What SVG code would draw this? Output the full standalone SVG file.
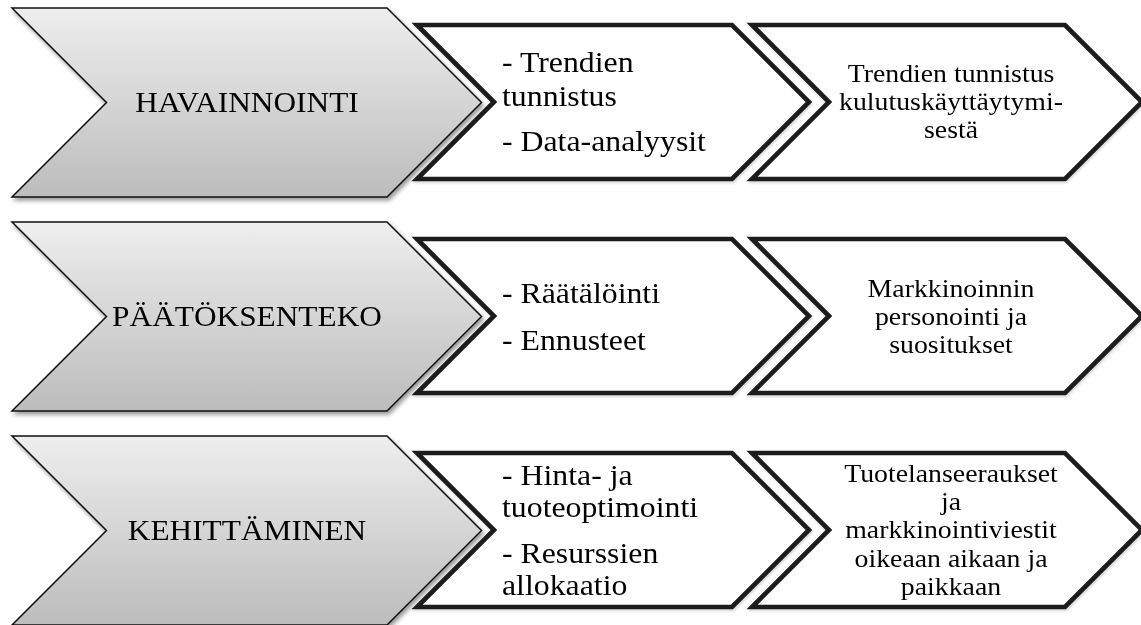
<svg xmlns="http://www.w3.org/2000/svg" width="1141" height="625" viewBox="0 0 1141 625">
  <defs>
    <linearGradient id="grayGrad" x1="0" y1="0" x2="0" y2="1">
      <stop offset="0" stop-color="#eeeeee"/>
      <stop offset="1" stop-color="#bcbcbc"/>
    </linearGradient>
    <filter id="shadow" x="-5%" y="-10%" width="115%" height="130%">
      <feGaussianBlur in="SourceAlpha" stdDeviation="2"/>
      <feOffset dx="2" dy="3" result="b"/>
      <feComponentTransfer><feFuncA type="linear" slope="0.4"/></feComponentTransfer>
      <feMerge><feMergeNode/><feMergeNode in="SourceGraphic"/></feMerge>
    </filter>
    <filter id="shadowLight" x="-5%" y="-10%" width="115%" height="130%">
      <feGaussianBlur in="SourceAlpha" stdDeviation="1.2"/>
      <feOffset dx="0.5" dy="1.5" result="b"/>
      <feComponentTransfer><feFuncA type="linear" slope="0.15"/></feComponentTransfer>
      <feMerge><feMergeNode/><feMergeNode in="SourceGraphic"/></feMerge>
    </filter>
    <polygon id="grayShape" points="12,8 387,8 481.5,102.5 387,197 12,197 106.5,102.5"/>
    <polygon id="midShape" points="417,25 732,25 809,102 732,179 417,179 494,102"/>
    <polygon id="endShape" points="752,25 1065,25 1142,102 1065,179 752,179 829,102"/>
  </defs>
  <style>
    .gray { fill: url(#grayGrad); stroke: #111111; stroke-width: 1.5; stroke-linejoin: miter; }
    .white { fill: #ffffff; stroke: #1a1a1a; stroke-width: 4.6; stroke-linejoin: miter; stroke-miterlimit: 10; }
    text { font-family: "Liberation Serif", "Times New Roman", serif; fill: #000000; }
    .lbl { font-size: 30px; text-anchor: middle; }
    .mid { font-size: 30px; }
    .end { font-size: 26px; text-anchor: middle; }
  </style>

  <!-- Row 1 -->
  <g id="havainnointi" filter="url(#shadow)">
    <use href="#grayShape" class="gray"/>
    <text class="lbl" transform="translate(247,112) scale(1.045,1)">HAVAINNOINTI</text>
  </g>
  <g id="havainnointi-keinot" filter="url(#shadowLight)">
    <use href="#midShape" class="white"/>
    <g transform="translate(502,0) scale(1.06,1)">
      <text class="mid" x="0" y="72">- Trendien</text>
      <text class="mid" x="0" y="106">tunnistus</text>
      <text class="mid" x="0" y="151">- Data-analyysit</text>
    </g>
  </g>
  <g id="havainnointi-tulos" filter="url(#shadowLight)">
    <use href="#endShape" class="white"/>
    <g transform="translate(951,0) scale(1.07,1)">
      <text class="end" x="0" y="82">Trendien tunnistus</text>
      <text class="end" x="0" y="110">kulutuskäyttäytymi-</text>
      <text class="end" x="0" y="138">sestä</text>
    </g>
  </g>

  <!-- Row 2 -->
  <g id="paatoksenteko" filter="url(#shadow)" transform="translate(0,214)">
    <use href="#grayShape" class="gray"/>
    <text class="lbl" transform="translate(247,112) scale(1.045,1)">PÄÄTÖKSENTEKO</text>
  </g>
  <g id="paatoksenteko-keinot" filter="url(#shadowLight)" transform="translate(0,214)">
    <use href="#midShape" class="white"/>
    <g transform="translate(502,0) scale(1.06,1)">
      <text class="mid" x="0" y="89">- Räätälöinti</text>
      <text class="mid" x="0" y="136">- Ennusteet</text>
    </g>
  </g>
  <g id="paatoksenteko-tulos" filter="url(#shadowLight)" transform="translate(0,214)">
    <use href="#endShape" class="white"/>
    <g transform="translate(951,0) scale(1.07,1)">
      <text class="end" x="0" y="83">Markkinoinnin</text>
      <text class="end" x="0" y="111">personointi ja</text>
      <text class="end" x="0" y="139">suositukset</text>
    </g>
  </g>

  <!-- Row 3 -->
  <g id="kehittaminen" filter="url(#shadow)" transform="translate(0,428)">
    <use href="#grayShape" class="gray"/>
    <text class="lbl" transform="translate(247,112) scale(1.045,1)">KEHITTÄMINEN</text>
  </g>
  <g id="kehittaminen-keinot" filter="url(#shadowLight)" transform="translate(0,428)">
    <use href="#midShape" class="white"/>
    <g transform="translate(502,0) scale(1.06,1)">
      <text class="mid" x="0" y="57">- Hinta- ja</text>
      <text class="mid" x="0" y="89">tuoteoptimointi</text>
      <text class="mid" x="0" y="135">- Resurssien</text>
      <text class="mid" x="0" y="167">allokaatio</text>
    </g>
  </g>
  <g id="kehittaminen-tulos" filter="url(#shadowLight)" transform="translate(0,428)">
    <use href="#endShape" class="white"/>
    <g transform="translate(951,0) scale(1.07,1)">
      <text class="end" x="0" y="54">Tuotelanseeraukset</text>
      <text class="end" x="0" y="82">ja</text>
      <text class="end" x="0" y="110">markkinointiviestit</text>
      <text class="end" x="0" y="139">oikeaan aikaan ja</text>
      <text class="end" x="0" y="167">paikkaan</text>
    </g>
  </g>

  <g id="connectors"/>
</svg>
